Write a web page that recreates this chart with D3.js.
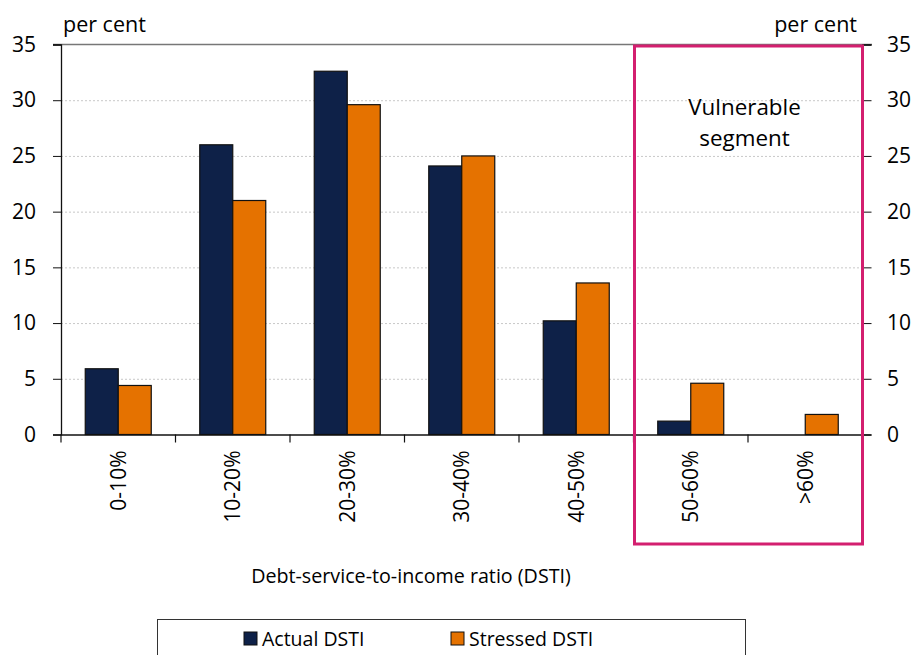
<!DOCTYPE html>
<html><head><meta charset="utf-8">
<script src="https://cdn.jsdelivr.net/npm/d3@7"></script>
<style>body{margin:0;background:#fff}svg{display:block}text{font-family:"Open Sans",sans-serif;fill:#000}</style>
</head><body><svg id="c" width="915" height="655"></svg>
<script>
const categories = ["0-10%","10-20%","20-30%","30-40%","40-50%","50-60%",">60%"];
const actual = [5.9, 26.0, 32.6, 24.1, 10.2, 1.2, 0];
const stressed = [4.4, 21.0, 29.6, 25.0, 13.6, 4.6, 1.8];
const seriesNames = ["Actual DSTI","Stressed DSTI"];
const colors = ["#0e2148","#e57200"];
const yTicks = [0,5,10,15,20,25,30,35];

const svg = d3.select("#c");
const L = 61, R = 862.5, T = 44.5, B = 434.5;
const x = d3.scaleBand().domain(categories).range([L,R]).paddingInner(0).paddingOuter(0);
const y = d3.scaleLinear().domain([0,35]).range([B,T]);
const bw = 33;
const x1 = d3.scaleBand().domain([0,1]).range([0,bw*2]);

// gridlines
svg.append("g").selectAll("line").data(yTicks.filter(d=>d>0&&d<35)).join("line")
  .attr("x1",L).attr("x2",R).attr("y1",d=>y(d)+0.5).attr("y2",d=>y(d)+0.5)
  .attr("stroke","#c8c8c8").attr("stroke-dasharray","2,2");
svg.append("line").attr("x1",53).attr("x2",872).attr("y1",y(35)).attr("y2",y(35)).attr("stroke","#777").attr("stroke-width",1.3);

// bars
const data = categories.map((c,i)=>({c, v:[actual[i],stressed[i]]}));
const g = svg.append("g");
data.forEach(d=>{
  d.v.forEach((v,k)=>{
    if(v<=0) return;
    g.append("rect").attr("x",x(d.c)+x.bandwidth()/2-bw+x1(k)).attr("y",y(v))
      .attr("width",bw).attr("height",y(0)-y(v))
      .attr("fill",colors[k]).attr("stroke","#111").attr("stroke-width",1.2);
  });
});

// axes
const fs = 21;
const yl = svg.append("g").attr("transform",`translate(${L},0)`)
  .call(d3.axisLeft(y).tickValues(yTicks).tickSize(8).tickPadding(6).tickFormat(d3.format("d")));
const yr = svg.append("g").attr("transform",`translate(${R},0)`)
  .call(d3.axisRight(y).tickValues(yTicks).tickSize(9).tickPadding(15).tickFormat(d3.format("d")));
[yl,yr].forEach(a=>{a.select(".domain").attr("stroke","#111").attr("stroke-width",1.3);
  a.selectAll("line").attr("stroke","#111");
  a.selectAll("text").style("font-size",fs+"px").style("font-family","'Open Sans',sans-serif");});
yl.selectAll("text").attr("x",-25);
yr.selectAll("text").attr("x",24.5);

const xa = svg.append("g").attr("transform",`translate(0,${B})`)
  .call(d3.axisBottom(x).tickSize(0).tickFormat(d=>d));
xa.select(".domain").attr("stroke","#111").attr("stroke-width",1.3);
xa.selectAll(".tick text").attr("transform","rotate(-90)").attr("text-anchor","end")
  .attr("x",-16).attr("y",0).attr("dy","0.35em").style("font-size",fs+"px").style("font-family","'Open Sans',sans-serif");
// category boundary ticks
svg.append("g").selectAll("line").data(d3.range(categories.length+1)).join("line")
  .attr("x1",i=>L+i*x.bandwidth()).attr("x2",i=>L+i*x.bandwidth())
  .attr("y1",B).attr("y2",B+8).attr("stroke","#111").attr("stroke-width",1.2);

// unit labels
svg.append("text").attr("x",63).attr("y",32).style("font-size","21.5px").text("per cent");
svg.append("text").attr("x",857).attr("y",32).attr("text-anchor","end").style("font-size","21.5px").text("per cent");

// vulnerable box
const bx0 = x(categories[5]) + 1;
svg.append("rect").attr("x",bx0).attr("y",46).attr("width",R-bx0).attr("height",498)
  .attr("fill","none").attr("stroke","#d31f6f").attr("stroke-width",3);
const cx = (bx0+R)/2 - 4;
svg.append("text").attr("x",cx).attr("y",115).attr("text-anchor","middle").style("font-size","22.4px").text("Vulnerable");
svg.append("text").attr("x",cx).attr("y",146).attr("text-anchor","middle").style("font-size","22.4px").text("segment");

// axis title
svg.append("text").attr("x",411).attr("y",583).attr("text-anchor","middle").style("font-size","19.7px")
  .text("Debt-service-to-income ratio (DSTI)");

// legend
svg.append("rect").attr("x",157.5).attr("y",619.5).attr("width",588).attr("height",50)
  .attr("fill","#fff").attr("stroke","#333").attr("stroke-width",1);
const lx = [244, 451];
seriesNames.forEach((n,k)=>{
  svg.append("rect").attr("x",lx[k]).attr("y",632).attr("width",13).attr("height",13)
    .attr("fill",colors[k]).attr("stroke","#111").attr("stroke-width",1);
  svg.append("text").attr("x",lx[k]+18).attr("y",646).style("font-size","19.5px").text(n);
});
</script></body></html>
